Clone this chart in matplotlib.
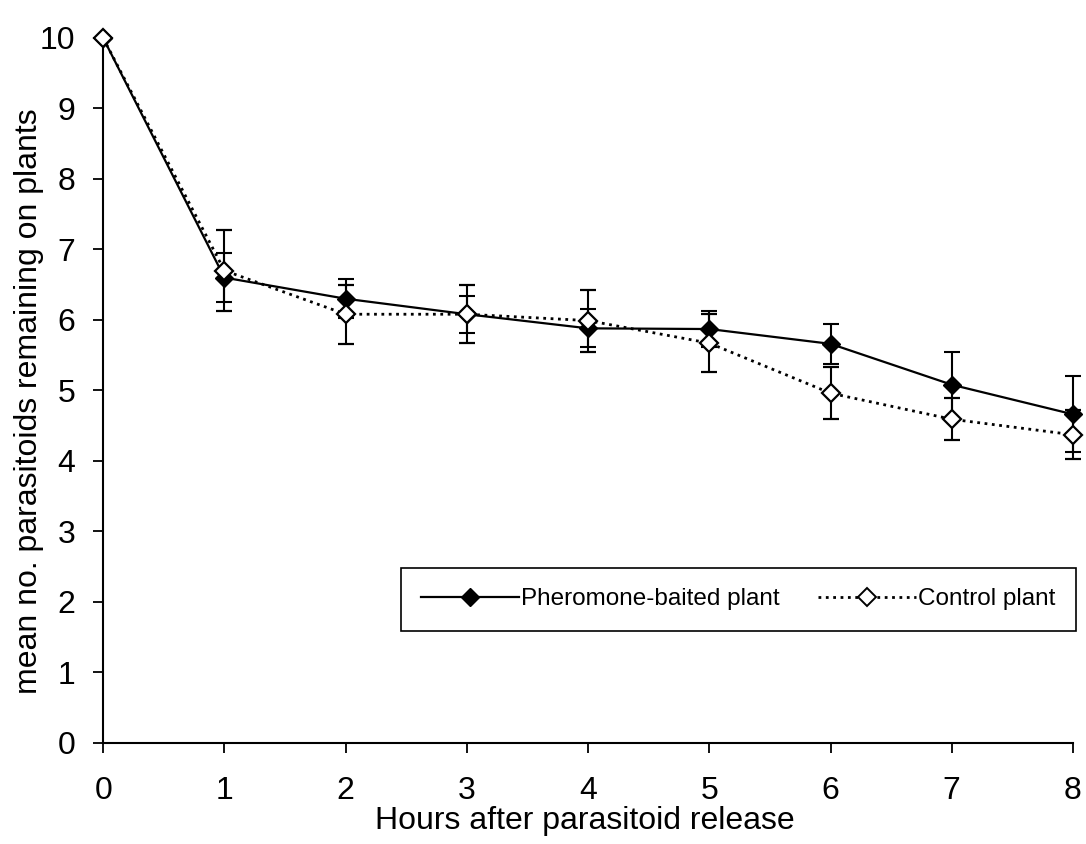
import matplotlib
matplotlib.use("Agg")
import matplotlib.pyplot as plt
from matplotlib.lines import Line2D

plt.rcParams['font.family'] = ['Liberation Sans', 'DejaVu Sans']

# data
hours = [0, 1, 2, 3, 4, 5, 6, 7, 8]
pheromone = [10.0, 6.60, 6.30, 6.08, 5.88, 5.87, 5.66, 5.08, 4.66]
pheromone_err = [0.0, 0.35, 0.28, 0.26, 0.27, 0.26, 0.28, 0.47, 0.54]
control = [10.0, 6.70, 6.08, 6.08, 5.99, 5.67, 4.96, 4.59, 4.37]
control_err = [0.0, 0.57, 0.42, 0.41, 0.44, 0.41, 0.37, 0.30, 0.35]

fig = plt.figure(figsize=(10.86, 8.44), dpi=100)
ax = fig.add_axes([0.095, 0.12, 0.893, 0.835])

ax.errorbar(hours, pheromone, yerr=pheromone_err, color="black", lw=1.6,
            marker="D", ms=9, mfc="black", mec="black", capsize=6,
            elinewidth=1.5, capthick=1.5, clip_on=False, zorder=3)
ax.errorbar(hours, control, yerr=control_err, color="black", lw=2.0, ls=":",
            marker="D", ms=9, mfc="white", mec="black", mew=1.6, capsize=6,
            elinewidth=1.5, capthick=1.5, clip_on=False, zorder=4)

ax.set_xlim(0, 8)
ax.set_ylim(0, 10)
ax.set_xticks(range(0, 9))
ax.set_yticks(range(0, 11))
ax.tick_params(direction="out", length=7, width=1.3, labelsize=23)
ax.tick_params(axis="x", pad=17)
ax.tick_params(axis="y", pad=13)
for s in ["top", "right"]:
    ax.spines[s].set_visible(False)
for s in ["left", "bottom"]:
    ax.spines[s].set_linewidth(1.5)

ax.set_xlabel("Hours after parasitoid release", fontsize=23)
ax.set_ylabel("mean no. parasitoids remaining on plants", fontsize=23)
ax.xaxis.set_label_coords(0.497, -0.09)
ax.yaxis.set_label_coords(-0.061, 0.484)

handles = [
    Line2D([], [], color="black", lw=1.6, marker="D", ms=9, mfc="black", mec="black"),
    Line2D([], [], color="black", lw=2.0, ls=":", marker="D", ms=9, mfc="white",
           mec="black", mew=1.4),
]
labels = ["Pheromone-baited plant", "Control plant"]
leg = ax.legend(handles, labels, loc="center", ncol=2, bbox_to_anchor=(0.655, 0.2035),
                fontsize=17.5, fancybox=False, edgecolor="black", handlelength=4.0,
                borderpad=0.85, columnspacing=1.6, handletextpad=0.1, framealpha=1)
leg.get_frame().set_linewidth(1.2)

fig.savefig("out.png", dpi=100)
